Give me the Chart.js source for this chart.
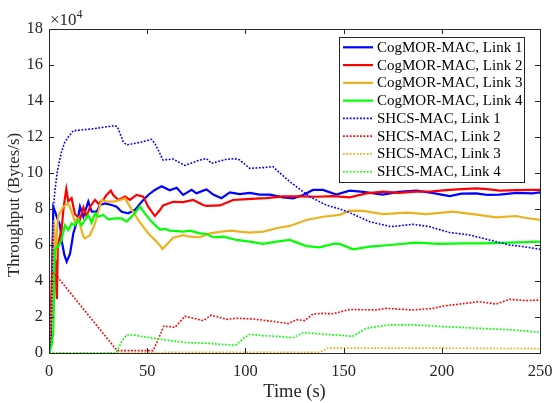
<!DOCTYPE html>
<html>
<head>
<meta charset="utf-8">
<script src="https://cdn.jsdelivr.net/npm/chart.js@4.4.1/dist/chart.umd.min.js"></script>
<style>
  html, body { margin: 0; padding: 0; background: #fff; }
  #wrap { width: 552px; height: 403px; }
</style>
</head>
<body>
<div id="wrap"><canvas id="tput" width="552" height="403"></canvas></div>
<script>
// Throughput per link, CogMOR-MAC vs SHCS-MAC (values in units of 10^4 Bytes/s)

// ── data ──────────────────────────────────────────────────────────────────
const cogTime1 = [0, 1.5, 2.2, 3, 3.9, 5.6, 6.4, 7.8, 9, 10.7, 12.4, 14.9, 15.8, 17.5, 20, 21.7, 24.3, 25.9, 28.5, 31.9, 34.4, 37, 40.3, 43.7, 47.2, 50.5, 53.9, 57.3, 61.5, 65, 68.3, 72.6, 75.1, 78.5, 80.2, 83.6, 87.8, 92.1, 97.1, 102.2, 107.3, 112.4, 119.2, 124.3, 129.4, 134.4, 139.5, 146.3, 153.1, 160, 170, 178, 187, 195, 204, 210, 217.5, 223, 229.4, 238, 246, 250];
const cogVal1  = [0, 3.5, 8.1, 7.9, 7.57, 7.1, 6.28, 5.46, 5.07, 5.5, 6.65, 7.57, 8.13, 7.57, 8.41, 7.85, 7.85, 8.22, 8.31, 8.22, 8.13, 7.85, 7.76, 7.94, 8.41, 8.78, 9.06, 9.26, 9.04, 9.18, 8.78, 9.06, 8.87, 9.02, 9.09, 8.8, 8.6, 8.92, 8.83, 8.9, 8.8, 8.8, 8.65, 8.59, 8.78, 9.06, 9.06, 8.8, 9.02, 8.95, 8.8, 8.95, 9.02, 8.9, 8.72, 8.85, 8.87, 8.78, 8.8, 8.9, 8.87, 8.92];

const cogTime2 = [0, 1, 2, 3, 4, 4.5, 6.4, 7.3, 8.1, 8.8, 9.8, 11.5, 13.2, 15.8, 17.5, 19.2, 20.9, 23.4, 25.1, 27.6, 29.3, 31.5, 32.7, 35.3, 38.7, 41.2, 44.6, 48, 50.5, 53.9, 56.5, 58.1, 63.2, 68.3, 73.4, 78.5, 80.2, 87, 90.4, 93.7, 98.8, 107.3, 110.7, 119.2, 127.7, 136.2, 144.6, 153.1, 161.6, 170, 178, 187, 195, 204, 210, 217.5, 223, 229.4, 238, 246, 250];
const cogVal2  = [0, 1, 6.5, 5.5, 3.0, 6.0, 6.83, 7.94, 8.59, 9.1, 8.43, 8.6, 7.72, 7.43, 8.09, 7.57, 8.13, 8.5, 8.3, 8.5, 8.78, 9.02, 8.78, 8.5, 8.69, 8.5, 8.78, 8.69, 8.13, 7.61, 7.94, 8.2, 8.4, 8.38, 8.5, 8.22, 8.17, 8.2, 8.35, 8.5, 8.54, 8.59, 8.6, 8.7, 8.7, 8.68, 8.72, 8.65, 8.87, 8.96, 8.9, 8.96, 8.98, 9.06, 9.1, 9.15, 9.1, 9.02, 9.05, 9.06, 9.06];

const cogTime3 = [0, 2, 2.5, 3, 3.5, 3.9, 4.7, 7.3, 9.8, 11.5, 13.2, 14.9, 17.5, 18.3, 20.9, 23.4, 25.1, 26.8, 29.3, 32.7, 36.1, 38.7, 41.2, 45.4, 50.5, 55.6, 57.8, 63.2, 68.3, 71.7, 76.8, 81.9, 86, 92.1, 97, 102.2, 109, 115.8, 122.6, 131.1, 139.5, 148, 153.1, 159.9, 170, 182, 192.1, 205.7, 215.8, 227.7, 237.9, 243, 250];
const cogVal3  = [0, 4, 7.4, 6.2, 5.2, 6.46, 7.6, 8.13, 8.31, 7.85, 7.3, 7.48, 6.46, 6.37, 6.55, 7.2, 7.85, 8.5, 8.41, 8.41, 8.5, 8.59, 8.13, 7.39, 6.65, 6.09, 5.78, 6.4, 6.55, 6.46, 6.43, 6.65, 6.72, 6.8, 6.74, 6.69, 6.74, 6.93, 7.06, 7.39, 7.57, 7.67, 7.91, 7.9, 7.72, 7.8, 7.72, 7.85, 7.72, 7.54, 7.61, 7.5, 7.39];

const cogTime4 = [0, 1.5, 2.2, 3, 3.9, 4.7, 6.4, 8.1, 9.8, 11.5, 13.2, 14.9, 16.6, 18.3, 20, 21.7, 23.4, 25.1, 27.6, 30.2, 33.6, 37, 39.5, 42.9, 46.3, 48.8, 52.2, 56.5, 59, 61.5, 68.3, 71.7, 76.8, 80.2, 83.6, 88.7, 95.5, 102.2, 109, 115.8, 122.6, 131.1, 137.8, 144.6, 148, 154.8, 163.3, 173.5, 187, 198.9, 210.7, 220.9, 234.5, 250];
const cogVal4  = [0, 0.5, 1.2, 5.72, 5.9, 5.9, 6.28, 7.1, 6.83, 7.2, 7.1, 7.39, 7.1, 7.39, 7.67, 7.24, 7.76, 7.57, 7.67, 7.43, 7.48, 7.48, 7.3, 7.67, 8.13, 7.76, 7.3, 6.85, 6.9, 6.8, 6.74, 6.8, 6.65, 6.61, 6.43, 6.46, 6.28, 6.19, 6.06, 6.19, 6.28, 5.94, 5.87, 6.06, 6.06, 5.76, 5.91, 6.0, 6.13, 6.06, 6.09, 6.09, 6.13, 6.19];

const shcsTime1 = [0, 1, 1.5, 2.2, 3, 4.2, 5, 6.4, 8, 9.8, 12.4, 17.5, 24.3, 29.3, 33.6, 34.8, 37.8, 39.5, 46.3, 52.2, 53.9, 58.1, 63.2, 69.2, 76.8, 80.2, 82.7, 90.4, 94.6, 97.1, 102.2, 109, 114.1, 115.8, 122.6, 132.8, 141.2, 148, 153.1, 163.3, 174.3, 185.3, 193.8, 204, 214.1, 224.3, 234.5, 242, 250];
const shcsVal1  = [0, 1, 3.5, 8, 9.0, 10.05, 10.5, 11.2, 11.7, 12.0, 12.35, 12.4, 12.48, 12.57, 12.63, 12.57, 11.74, 11.56, 11.7, 11.87, 11.65, 10.72, 10.78, 10.42, 10.72, 10.8, 10.54, 10.76, 10.8, 10.72, 10.26, 10.3, 10.35, 10.17, 9.52, 8.68, 8.22, 8.0, 7.8, 7.29, 7.02, 7.15, 7.02, 6.69, 6.56, 6.28, 6.0, 5.9, 5.76];

const shcsTime2 = [0, 0.7, 1.4, 3.9, 34.4, 35, 53, 55, 58.5, 64.1, 68.3, 69.2, 78.5, 82.7, 90.4, 95.5, 103.9, 112.4, 121.7, 126, 130.2, 134.4, 139.5, 144.6, 153.1, 166.7, 171.7, 185.3, 195.5, 200.6, 209, 219.2, 227.7, 234.5, 243, 250];
const shcsVal2  = [0, 2, 4.5, 4.28, 0.17, 0.13, 0.13, 0.6, 1.5, 1.43, 1.93, 2.04, 1.8, 2.1, 1.87, 1.93, 1.89, 1.78, 1.63, 1.85, 1.8, 2.17, 2.2, 2.18, 2.42, 2.39, 2.48, 2.39, 2.48, 2.61, 2.72, 2.85, 2.72, 2.98, 2.91, 2.94];

const shcsTime3 = [0, 58, 59, 138, 142, 200, 250];
const shcsVal3  = [0, 0, 0.04, 0.04, 0.27, 0.27, 0.24];

const shcsTime4 = [0, 34, 34.4, 37, 39.5, 42.9, 51.4, 55.6, 59.9, 63.2, 68.3, 80.2, 93.7, 95.5, 98.8, 102.2, 109, 117.5, 124.3, 129.4, 134.4, 153.1, 154.8, 161.6, 166.7, 173.5, 185.3, 202.3, 219.2, 236.2, 250];
const shcsVal4  = [0, 0, 0.07, 0.63, 1.0, 1.0, 0.85, 0.78, 0.72, 0.67, 0.59, 0.54, 0.44, 0.46, 0.81, 1.04, 0.96, 0.92, 0.85, 1.13, 1.09, 0.94, 0.94, 1.37, 1.46, 1.56, 1.56, 1.46, 1.37, 1.28, 1.15];

const seriesLabels = [
    'CogMOR-MAC, Link 1', 'CogMOR-MAC, Link 2', 'CogMOR-MAC, Link 3', 'CogMOR-MAC, Link 4',
    'SHCS-MAC, Link 1', 'SHCS-MAC, Link 2', 'SHCS-MAC, Link 3', 'SHCS-MAC, Link 4',
];
const linkColors = ['#0000ff', '#ff0000', '#edb120', '#00ff00'];
const xTicks = [0, 50, 100, 150, 200, 250];
const yTicks = [0, 2, 4, 6, 8, 10, 12, 14, 16, 18];

// ── style ─────────────────────────────────────────────────────────────────
const AXIS_COLOR = '#262626';
const SERIF = "'Liberation Serif', 'Times New Roman', serif";
const DOT_DASH = [1.8, 1.6];

const times = [cogTime1, cogTime2, cogTime3, cogTime4, shcsTime1, shcsTime2, shcsTime3, shcsTime4];
const vals  = [cogVal1, cogVal2, cogVal3, cogVal4, shcsVal1, shcsVal2, shcsVal3, shcsVal4];

const datasets = seriesLabels.map((label, i) => {
    const dotted = i >= 4;
    return {
        label,
        data: times[i].map((t, k) => ({ x: t, y: vals[i][k] })),
        borderColor: linkColors[i % 4],
        borderWidth: dotted ? 1.6 : 2.2,
        borderDash: dotted ? DOT_DASH : [],
        pointRadius: 0,
        tension: 0,
        fill: false,
        order: 8 - i, // later series on top, like MATLAB
    };
});

// ── box, inward ticks, y label, exponent and legend (MATLAB look) ─────────
const matlabAxes = {
    id: 'matlabAxes',
    afterDraw(chart) {
        const { ctx, chartArea: a, scales: { x, y } } = chart;
        ctx.save();
        ctx.strokeStyle = AXIS_COLOR;
        ctx.lineWidth = 1;
        ctx.strokeRect(a.left + 0.5, a.top + 0.5, a.right - a.left, a.bottom - a.top);

        const TL = 5;
        ctx.beginPath();
        xTicks.forEach(v => {
            const px = Math.round(x.getPixelForValue(v)) + 0.5;
            ctx.moveTo(px, a.bottom); ctx.lineTo(px, a.bottom - TL);
            ctx.moveTo(px, a.top);    ctx.lineTo(px, a.top + TL);
        });
        yTicks.forEach(v => {
            const py = Math.round(y.getPixelForValue(v)) + 0.5;
            ctx.moveTo(a.left, py);  ctx.lineTo(a.left + TL, py);
            ctx.moveTo(a.right, py); ctx.lineTo(a.right - TL, py);
        });
        ctx.stroke();

        // y label (drawn by hand, MATLAB puts it a bit below the middle here)
        ctx.fillStyle = AXIS_COLOR;
        ctx.save();
        ctx.translate(15, 205);
        ctx.rotate(-Math.PI / 2);
        ctx.textAlign = 'center';
        ctx.textBaseline = 'middle';
        ctx.font = `16.8px ${SERIF}`;
        ctx.fillText('Throughput (Bytes/s)', 0, 0);
        ctx.restore();

        // ×10^4
        ctx.textBaseline = 'alphabetic';
        ctx.textAlign = 'left';
        ctx.font = `17px ${SERIF}`;
        ctx.fillText('\u00d710', a.left + 1, a.top - 4);
        const w = ctx.measureText('\u00d710').width;
        ctx.font = `12px ${SERIF}`;
        ctx.fillText('4', a.left + 1 + w, a.top - 11);

        // legend
        const LX = 339, LY = 37, LW = 185, LH = 145, ROW = 17.77;
        ctx.fillStyle = '#fff';
        ctx.fillRect(LX, LY, LW, LH);
        ctx.strokeStyle = AXIS_COLOR;
        ctx.lineWidth = 1;
        ctx.strokeRect(LX + 0.5, LY + 0.5, LW, LH);
        ctx.font = `15px ${SERIF}`;
        ctx.textBaseline = 'middle';
        chart.data.datasets.forEach((ds, i) => {
            const ry = LY + 10.3 + i * ROW;
            ctx.beginPath();
            ctx.strokeStyle = ds.borderColor;
            ctx.lineWidth = ds.borderWidth;
            ctx.setLineDash(ds.borderDash);
            ctx.moveTo(LX + 4, ry); ctx.lineTo(LX + 34, ry);
            ctx.stroke();
            ctx.setLineDash([]);
            ctx.fillStyle = '#000';
            ctx.fillText(ds.label, LX + 38, ry + 0.5);
        });
        ctx.restore();
    },
};

new Chart(document.getElementById('tput'), {
    type: 'line',
    data: { datasets },
    options: {
        responsive: false,
        animation: false,
        devicePixelRatio: 1,
        layout: { padding: { top: 29, right: 12, left: 0, bottom: 0 } },
        plugins: {
            legend: { display: false },
            tooltip: { enabled: false },
        },
        scales: {
            x: {
                type: 'linear',
                min: 0, max: 250,
                afterBuildTicks: s => { s.ticks = xTicks.map(v => ({ value: v })); },
                afterFit: s => { s.height = 50; s.paddingLeft = 0; s.paddingRight = 0; },
                grid: { display: false, drawTicks: false },
                border: { display: false },
                ticks: { color: AXIS_COLOR, font: { family: SERIF, size: 16.5 }, padding: 9, maxRotation: 0 },
                title: { display: true, text: 'Time (s)', color: AXIS_COLOR, font: { family: SERIF, size: 18.5 }, padding: 0 },
            },
            y: {
                type: 'linear',
                min: 0, max: 18,
                afterBuildTicks: s => { s.ticks = yTicks.map(v => ({ value: v })); },
                afterFit: s => { s.width = 49; s.paddingTop = 0; s.paddingBottom = 0; },
                grid: { display: false, drawTicks: false },
                border: { display: false },
                ticks: { color: AXIS_COLOR, font: { family: SERIF, size: 16.5 }, padding: 6 },
            },
        },
    },
    plugins: [matlabAxes],
});
</script>
</body>
</html>
